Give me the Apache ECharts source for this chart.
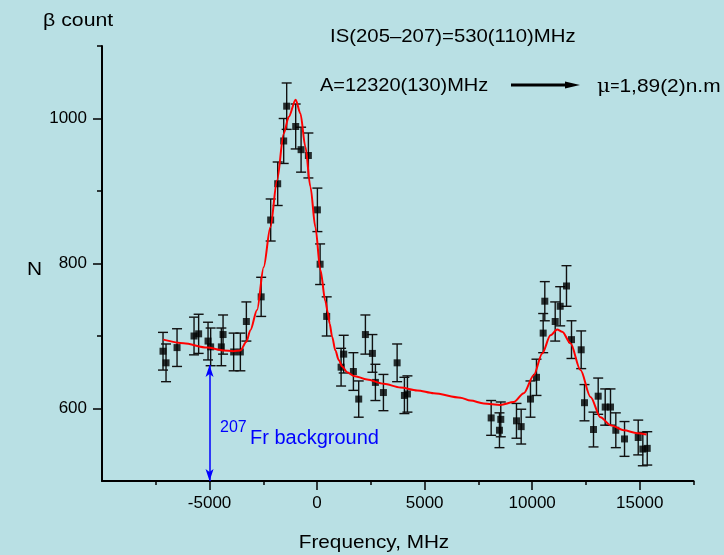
<!DOCTYPE html>
<html>
<head>
<meta charset="utf-8">
<script src="https://cdn.jsdelivr.net/npm/echarts@6/dist/echarts.min.js"></script>
<style>
html,body{margin:0;padding:0;background:#b9e0e4;}
#chart{width:724px;height:555px;}
</style>
</head>
<body>
<div id="chart"></div>
<script>
// Measured points (frequency in MHz, beta counts N, error)
var freq = [-7163, -7023, -6511, -5721, -5507, -5070, -4949, -4451, -4372, -3879, -3567, -3288, -2600,
  -2158, -1832, -1553, -1414, -995, -744, -405, 14, 140, 447, 1116, 1237, 1688, 1935, 2246, 2572, 2711,
  3084, 3721, 4060, 4200, 8093, 8540, 8479, 9270, 9488, 9921, 10200, 10511, 10587, 11070, 11302, 11595,
  11828, 12279, 12432, 12851, 13069, 13395, 13641, 13888, 14293, 14930, 15144, 15349];
var counts = [679, 663, 684, 700, 703, 693, 685, 685, 702, 678, 678, 720, 754,
  860, 910, 969, 1017, 989, 957, 949, 874, 799, 727, 657, 675, 651, 613, 702, 676, 636,
  622, 663, 618, 620, 587, 585, 570, 583, 575, 613, 643, 704, 748, 720, 741, 769,
  695, 681, 608, 571, 617, 602, 602, 570, 558, 560, 544, 545];
var errors = [26, 26, 26, 26, 27, 26, 26, 26, 27, 26, 26, 27, 27,
  29, 30, 31, 32, 31, 31, 31, 30, 28, 27, 26, 26, 26, 25, 27, 26, 25,
  25, 26, 25, 25, 24, 24, 24, 24, 24, 25, 25, 27, 27, 27, 27, 28,
  26, 26, 25, 24, 25, 25, 25, 24, 24, 24, 23, 23];
// Fit curve
var fitX = [-7150, -6204, -5116, -4344, -3879, -3567, -3288, -3102, -2790, -2484, -2172, -1860, -1553, -1321,
  -995, -777, -544, -312, -79, 153, 386, 493, 586, 698, 851, 1005, 1163, 1395, 1705, 2325, 3100, 3874,
  4651, 5423, 6665, 7130, 7749, 8525, 9144, 9609, 10074, 10465, 10851, 11163, 11395, 11781, 12246,
  12711, 13176, 13641, 14261, 14883, 15316];
var fitY = [695, 690, 684, 680, 679, 680, 692, 708, 736, 795, 850, 915, 979, 1002,
  1026, 1007, 961, 906, 850, 791, 748, 733, 717, 699, 680, 667, 658, 650, 645, 640, 634, 629,
  625, 621, 615, 611, 607, 605, 609, 621, 646, 676, 701, 709, 706, 690, 653,
  616, 588, 577, 570, 566, 564];
// Axis ticks
var xMajorTicks = [-5000, 0, 5000, 10000, 15000];
var xMinorTicks = [-7500, -2500, 2500, 7500, 12500, 17500];
var yMajorTicks = [600, 800, 1000];
var yMinorTicks = [700, 900, 1100];
// Background arrow: frequency, top count, bottom count
var bgArrow = [-5000, 660, 500];

var FONT = 'Liberation Sans, Arial, sans-serif';
var chart = echarts.init(document.getElementById('chart'));

var errData = freq.map(function (f, i) { return [f, counts[i] - errors[i], counts[i] + errors[i]]; });
var ptData = freq.map(function (f, i) { return [f, counts[i]]; });
var fitData = fitX.map(function (f, i) { return [f, fitY[i]]; });
function plain(v) { return String(v); }

function mkText(x, y, text, size, sx, extra) {
  var st = { text: text, font: size + 'px ' + FONT, fill: '#000', align: 'left', verticalAlign: 'middle' };
  if (extra) for (var k in extra) st[k] = extra[k];
  return { type: 'text', x: x, y: y, scaleX: sx || 1, style: st, z: 100 };
}

chart.setOption({
  backgroundColor: '#b9e0e4',
  animation: false,
  grid: { left: 102, top: 46, right: 30.5, bottom: 74, containLabel: false },
  xAxis: [
    { type: 'value', min: -10000, max: 17500, splitLine: { show: false },
      axisLine: { show: true, onZero: false, lineStyle: { color: '#000', width: 2 } },
      axisTick: { show: true, customValues: xMinorTicks, length: 4, inside: false, lineStyle: { color: '#000', width: 1.5 } },
      axisLabel: { show: false } },
    { type: 'value', min: -10000, max: 17500, splitLine: { show: false }, position: 'bottom',
      axisLine: { show: false, onZero: false },
      axisTick: { show: true, customValues: xMajorTicks, length: 9, lineStyle: { color: '#000', width: 1.5 } },
      axisLabel: { show: true, customValues: xMajorTicks, formatter: plain, margin: 14, color: '#000', fontSize: 17, fontFamily: FONT } }
  ],
  yAxis: [
    { type: 'value', min: 500, max: 1100, splitLine: { show: false },
      axisLine: { show: true, onZero: false, lineStyle: { color: '#000', width: 2 } },
      axisTick: { show: true, customValues: yMinorTicks, length: 5, lineStyle: { color: '#000', width: 1.5 } },
      axisLabel: { show: false } },
    { type: 'value', min: 500, max: 1100, splitLine: { show: false }, position: 'left',
      axisLine: { show: false, onZero: false },
      axisTick: { show: true, customValues: yMajorTicks, length: 9, lineStyle: { color: '#000', width: 1.5 } },
      axisLabel: { show: true, customValues: yMajorTicks, formatter: plain, margin: 15, color: '#000', fontSize: 17, fontFamily: FONT } }
  ],
  series: [
    { type: 'custom', xAxisIndex: 0, yAxisIndex: 0, data: errData, z: 2,
      encode: { x: 0, y: [1, 2] },
      renderItem: function (params, api) {
        var x = api.value(0);
        var p1 = api.coord([x, api.value(2)]);
        var p2 = api.coord([x, api.value(1)]);
        var w = 5;
        var st = { stroke: '#111', lineWidth: 1.4 };
        return { type: 'group', children: [
          { type: 'line', shape: { x1: p1[0], y1: p1[1], x2: p2[0], y2: p2[1] }, style: st },
          { type: 'line', shape: { x1: p1[0] - w, y1: p1[1], x2: p1[0] + w, y2: p1[1] }, style: st },
          { type: 'line', shape: { x1: p2[0] - w, y1: p2[1], x2: p2[0] + w, y2: p2[1] }, style: st }
        ] };
      } },
    { type: 'scatter', xAxisIndex: 0, yAxisIndex: 0, data: ptData, symbol: 'rect', symbolSize: 7, z: 3,
      itemStyle: { color: '#000' } },
    { type: 'line', xAxisIndex: 0, yAxisIndex: 0, data: fitData, showSymbol: false, z: 4,
      smooth: 0.3, smoothMonotone: 'x',
      lineStyle: { color: '#ff0000', width: 2 },
      markLine: { silent: true, symbol: ['arrow', 'arrow'], symbolSize: [6, 12],
        lineStyle: { color: '#0000ff', width: 1.5, type: 'solid' }, label: { show: false },
        data: [[{ coord: [bgArrow[0], bgArrow[1]] }, { coord: [bgArrow[0], bgArrow[2]] }]] } }
  ],
  graphic: [
    mkText(43, 21, 'β count', 19, 1.12),
    mkText(27, 270, 'N', 19, 1.1),
    { type: 'text', x: 374, y: 543, scaleX: 1.12, z: 100,
      style: { text: 'Frequency, MHz', font: '18.5px ' + FONT, fill: '#000', align: 'center', verticalAlign: 'middle' } },
    mkText(330, 37, 'IS(205–207)=530(110)MHz', 18.5, 1.1),
    mkText(320, 86, 'A=12320(130)MHz', 18.5, 1.08),
    { type: 'line', z: 100, shape: { x1: 511, y1: 85, x2: 568, y2: 85 }, style: { stroke: '#000', lineWidth: 3 } },
    { type: 'polygon', z: 100, shape: { points: [[565, 81.5], [580, 85], [565, 88.5]] }, style: { fill: '#000' } },
    { type: 'text', x: 597, y: 87, scaleX: 1.13, z: 100,
      style: { text: '{m|μ}{e|=}1,89(2)n.m', font: '18.5px ' + FONT, fill: '#000', align: 'left', verticalAlign: 'middle',
        rich: { m: { font: '18px DejaVu Serif, serif', fill: '#000' }, e: { font: '14px ' + FONT, fill: '#000' } } } },
    { type: 'text', x: 220, y: 428, z: 100,
      style: { text: '207', font: '16px ' + FONT, fill: '#0000ff', align: 'left', verticalAlign: 'middle' } },
    { type: 'text', x: 250, y: 438, z: 100,
      style: { text: 'Fr background', font: '20px ' + FONT, fill: '#0000ff', align: 'left', verticalAlign: 'middle' } }
  ]
});
</script>
</body>
</html>
